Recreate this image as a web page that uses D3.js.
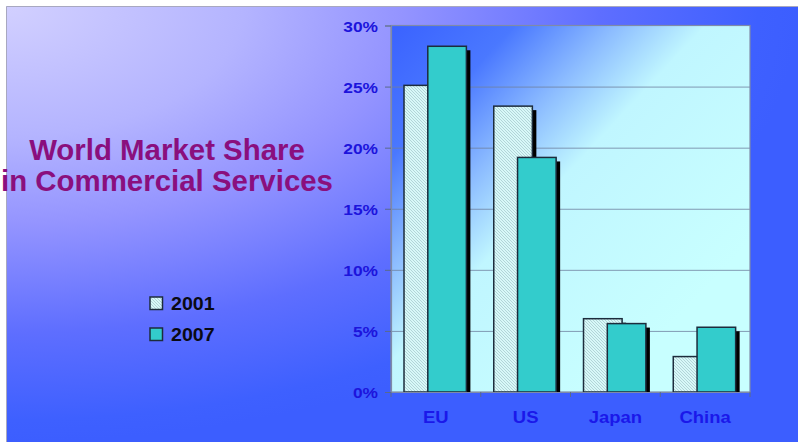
<!DOCTYPE html>
<html>
<head>
<meta charset="utf-8">
<script src="https://cdn.jsdelivr.net/npm/d3@7"></script>
<style>
  html, body { margin: 0; padding: 0; background: #ffffff; }
  svg { display: block; }
</style>
</head>
<body>
<div id="chart"></div>
<script>
// Data
const categories = ["EU", "US", "Japan", "China"];
const seriesNames = ["2001", "2007"];
const share2001 = [25.1, 23.4, 6.0, 2.9];
const share2007 = [28.3, 19.2, 5.6, 5.3];
const yTicks = [0, 5, 10, 15, 20, 25, 30];
const titleLines = ["World Market Share", "in Commercial Services"];

const W = 798, H = 442;
const plot = { left: 391, right: 750, top: 25.5, bottom: 392 };
const SX = 1.12; // horizontal text stretch

const svg = d3.select("#chart").append("svg")
  .attr("width", W).attr("height", H);

const defs = svg.append("defs");

// Slide background: elliptical glow from top-left
const bg = defs.append("radialGradient").attr("id", "slideBg")
  .attr("cx", 0).attr("cy", 0).attr("r", 1).attr("fx", 0).attr("fy", 0);
[[0, "#d2d0ff"], [0.3, "#b4b4ff"], [0.5, "#9494ff"], [0.75, "#5e6eff"], [0.95, "#3e60ff"], [1, "#3c5eff"]]
  .forEach(([o, c]) => bg.append("stop").attr("offset", o).attr("stop-color", c));

// Plot area: blue to pale cyan diagonal
const pg = defs.append("linearGradient").attr("id", "plotBg")
  .attr("gradientUnits", "userSpaceOnUse")
  .attr("x1", plot.left).attr("y1", plot.top)
  .attr("x2", plot.left + 300).attr("y2", plot.top + 280);
[[0, "#3a62ff"], [0.22, "#4a78ff"], [0.4, "#8cbcff"], [0.56, "#c0f6ff"], [1, "#c8ffff"]]
  .forEach(([o, c]) => pg.append("stop").attr("offset", o).attr("stop-color", c));

// Hatch fill for the 2001 series
const hatch = defs.append("pattern").attr("id", "hatch")
  .attr("patternUnits", "userSpaceOnUse").attr("width", 3).attr("height", 3);
hatch.append("rect").attr("width", 3).attr("height", 3).attr("fill", "#d8f8f8");
hatch.append("path").attr("d", "M-1,-1 L4,4 M-1,2 L1,4 M2,-1 L4,1")
  .attr("stroke", "#a8cccf").attr("stroke-width", 0.8);

// Slide
svg.append("rect").attr("x", 0).attr("y", 0).attr("width", W).attr("height", H).attr("fill", "#ffffff");
svg.append("rect").attr("x", 6).attr("y", 6).attr("width", W - 6).attr("height", H - 6)
  .attr("fill", "url(#slideBg)");
svg.append("path").attr("d", `M6.5,${H} V6.5 H${W}`)
  .attr("fill", "none").attr("stroke", "#a8a8c0").attr("stroke-width", 1);

// Scales
const x0 = d3.scaleBand().domain(categories).range([plot.left, plot.right]).padding(0);
const y = d3.scaleLinear().domain([0, 30]).range([plot.bottom, plot.top]);
const bw = x0.bandwidth();
const barW = bw * 0.43;
const offsets = [bw * 0.145, bw * 0.41];
const fills = ["url(#hatch)", "#33cccc"];
const seriesData = [share2001, share2007];

// Plot background
svg.append("rect")
  .attr("x", plot.left).attr("y", plot.top)
  .attr("width", plot.right - plot.left).attr("height", plot.bottom - plot.top)
  .attr("fill", "url(#plotBg)");

// Gridlines
svg.append("g").selectAll("line").data(yTicks.filter(t => t > 0 && t < 30)).join("line")
  .attr("x1", plot.left).attr("x2", plot.right)
  .attr("y1", d => y(d) + 0.5).attr("y2", d => y(d) + 0.5)
  .attr("stroke", "#6f82a0").attr("stroke-width", 0.8);

// Plot border
svg.append("rect")
  .attr("x", plot.left).attr("y", plot.top)
  .attr("width", plot.right - plot.left).attr("height", plot.bottom - plot.top)
  .attr("fill", "none").attr("stroke", "#7f8aa8").attr("stroke-width", 1.2);

// Bars with drop shadows
seriesData.forEach((vals, s) => {
  const g = svg.append("g");
  const rows = categories.map((c, i) => ({ c, v: vals[i] }));
  g.selectAll("rect.shadow").data(rows).join("rect").attr("class", "shadow")
    .attr("x", d => x0(d.c) + offsets[s] + 4)
    .attr("y", d => y(d.v) + 4)
    .attr("width", barW)
    .attr("height", d => Math.max(0, y(0) - y(d.v) - 4))
    .attr("fill", "#000000");
  g.selectAll("rect.bar").data(rows).join("rect").attr("class", "bar")
    .attr("x", d => x0(d.c) + offsets[s])
    .attr("y", d => y(d.v))
    .attr("width", barW)
    .attr("height", d => y(0) - y(d.v))
    .attr("fill", fills[s])
    .attr("stroke", "#1c2c3c").attr("stroke-width", 1.5);
});

// Y axis
const yAxis = svg.append("g").attr("transform", `translate(${plot.left},0)`)
  .call(d3.axisLeft(y).tickValues(yTicks).tickSize(6).tickFormat(d => d + "%"));
yAxis.select(".domain").attr("stroke", "#7f8aa8").attr("stroke-width", 1.2);
yAxis.selectAll(".tick line").attr("stroke", "#5a6a8a");
yAxis.selectAll(".tick text")
  .attr("x", 0).attr("dy", null).attr("y", 0)
  .attr("text-anchor", "end")
  .attr("transform", `translate(-13,5.5) scale(${SX},1)`)
  .attr("fill", "#1c14dc")
  .style("font-family", "'Liberation Sans', Arial, sans-serif")
  .style("font-weight", "bold").style("font-size", "15.5px");

// X axis
const xAxis = svg.append("g").attr("transform", `translate(0,${plot.bottom})`)
  .call(d3.axisBottom(x0).tickSize(0).tickPadding(0));
xAxis.select(".domain").attr("stroke", "#7f8aa8").attr("stroke-width", 1.2);
xAxis.selectAll(".tick text")
  .attr("y", 0).attr("dy", null)
  .attr("transform", `translate(0,30.5) scale(${SX},1)`)
  .attr("fill", "#1a18ea")
  .style("font-family", "'Liberation Sans', Arial, sans-serif")
  .style("font-weight", "bold").style("font-size", "16.5px");
// Category separators
svg.append("g").selectAll("line")
  .data(categories.map(c => x0(c)).concat([plot.right])).join("line")
  .attr("x1", d => d).attr("x2", d => d)
  .attr("y1", plot.bottom).attr("y2", plot.bottom + 5)
  .attr("stroke", "#5a6a8a").attr("stroke-width", 1);

// Title
const title = svg.append("g").attr("fill", "#8a0f7e")
  .style("font-family", "'Liberation Sans', Arial, sans-serif")
  .style("font-weight", "bold").style("font-size", "29px");
titleLines.forEach((t, i) => {
  title.append("text")
    .attr("text-anchor", "middle")
    .attr("transform", `translate(167,${160 + i * 31}) scale(1.015,1)`)
    .text(t);
});

// Legend
const legend = svg.append("g")
  .style("font-family", "'Liberation Sans', Arial, sans-serif")
  .style("font-weight", "bold").style("font-size", "17.5px");
seriesNames.forEach((n, i) => {
  const ly = 297 + i * 31;
  legend.append("rect")
    .attr("x", 150).attr("y", ly).attr("width", 12.5).attr("height", 12.5)
    .attr("fill", fills[i]).attr("stroke", "#1c2c3c").attr("stroke-width", 1.5);
  legend.append("text")
    .attr("transform", `translate(171,${ly + 12.5}) scale(${SX},1)`)
    .attr("fill", "#0a0a14")
    .text(n);
});
</script>
</body>
</html>
